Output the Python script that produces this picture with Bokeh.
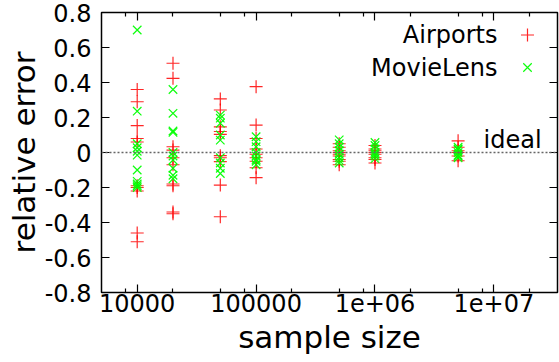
import numpy as np
from bokeh.plotting import figure
from bokeh.models import (Range1d, FixedTicker, CustomJSTickFormatter, LogAxis,
                          LinearAxis, Span, Label)
from bokeh.embed import file_html
from bokeh.resources import INLINE

# ---- data ----
sizes = [10000, 20000, 50000, 100000, 500000, 1000000, 5000000]

airports = {
    10000:   [0.36, 0.29, 0.154, 0.08, 0.06, -0.19, -0.20, -0.22, -0.46, -0.51],
    20000:   [0.51, 0.424, 0.033, 0.014, -0.03, -0.07, -0.18, -0.19, -0.34, -0.35],
    50000:   [0.306, 0.243, 0.147, 0.104, 0.12, -0.018, -0.03, -0.052, -0.186, -0.367],
    100000:  [0.376, 0.157, 0.08, 0.02, -0.01, -0.03, -0.05, -0.087, -0.144],
    500000:  [0.05, 0.03, 0.01, 0.0, -0.01, -0.02, -0.04, -0.05, -0.07],
    1000000: [0.04, 0.02, 0.01, 0.0, -0.01, -0.03, -0.04, -0.06],
    5000000: [0.067, 0.03, 0.01, 0.0, -0.02, -0.047],
}
movielens = {
    10000:   [0.70, 0.236, 0.05, 0.027, 0.007, -0.015, -0.10, -0.165, -0.18, -0.19, -0.20],
    20000:   [0.36, 0.224, 0.123, 0.115, 0.0, -0.02, -0.043, -0.09, -0.13, -0.15],
    50000:   [0.214, 0.196, 0.167, 0.10, 0.071, -0.03, -0.06, -0.09, -0.12],
    100000:  [0.09, 0.062, 0.033, 0.0, -0.02, -0.04, -0.05, -0.07],
    500000:  [0.072, 0.05, 0.03, 0.01, -0.01, -0.03, -0.045, -0.06],
    1000000: [0.057, 0.04, 0.02, 0.0, -0.01, -0.02, -0.035],
    5000000: [0.03, 0.02, 0.015, 0.0, -0.015, -0.02, -0.03],
}

x_major = [10000, 100000, 1000000, 10000000]
x_minor = [8000, 20000, 50000, 80000, 200000, 500000, 800000,
           2000000, 5000000, 8000000, 20000000]
y_ticks = [-0.8, -0.6, -0.4, -0.2, 0.0, 0.2, 0.4, 0.6, 0.8]

FONT = "DejaVu Sans"

def flatten(d):
    xs, ys = [], []
    for s in sizes:
        for v in d[s]:
            xs.append(s)
            ys.append(v)
    return xs, ys

# frame geometry
W, H = 559, 362
LEFT, RIGHT, TOP, BOTTOM = 101, 2, 12, 70
lx0, lx1 = 3.6997, 7.535

p = figure(width=W, height=H, x_axis_type="log",
           x_range=Range1d(10 ** lx0, 10 ** lx1), y_range=Range1d(-0.8, 0.8),
           output_backend="svg", toolbar_location=None,
           min_border_left=LEFT, min_border_right=RIGHT,
           min_border_top=TOP, min_border_bottom=BOTTOM)
p.background_fill_color = "white"
p.border_fill_color = "white"
p.xgrid.visible = False
p.ygrid.visible = False
p.outline_line_color = "black"
p.outline_line_width = 1.5

xt = FixedTicker(ticks=x_major, minor_ticks=x_minor)
yt = FixedTicker(ticks=y_ticks)
xfmt = CustomJSTickFormatter(code="""
  if (tick < 50000) return "10000";
  if (tick < 500000) return "100000";
  if (tick < 5000000) return "1e+06";
  return "1e+07";
""")
yfmt = CustomJSTickFormatter(code="""
  if (Math.abs(tick) < 1e-9) return "0";
  return tick.toFixed(1);
""")

def style(ax, labels=True):
    ax.axis_line_color = None
    ax.major_tick_in = 8
    ax.major_tick_out = 0
    ax.minor_tick_in = 4
    ax.minor_tick_out = 0
    ax.major_tick_line_color = "black"
    ax.minor_tick_line_color = "black"
    ax.major_tick_line_width = 1.2
    ax.minor_tick_line_width = 1.2
    if labels:
        ax.major_label_text_font = FONT
        ax.major_label_text_font_size = "24px"
        ax.major_label_text_color = "black"
        ax.axis_label_text_font = FONT
        ax.axis_label_text_font_size = "31px"
        ax.axis_label_text_font_style = "normal"
        ax.axis_label_text_color = "black"
    else:
        ax.major_label_text_font_size = "1px"
        ax.major_label_text_alpha = 0
        ax.major_label_standoff = 0

p.xaxis.ticker = xt
p.xaxis.formatter = xfmt
p.yaxis.ticker = yt
p.yaxis.formatter = yfmt
style(p.xaxis[0])
style(p.yaxis[0])
p.xaxis.axis_label = "sample size"
p.yaxis.axis_label = "relative error"
p.xaxis.major_label_standoff = 1
p.yaxis.major_label_standoff = 10
p.xaxis.axis_label_standoff = 4
p.yaxis.axis_label_standoff = 0

top_ax = LogAxis(ticker=FixedTicker(ticks=x_major, minor_ticks=x_minor))
style(top_ax, labels=False)
p.add_layout(top_ax, "above")
right_ax = LinearAxis(ticker=FixedTicker(ticks=y_ticks))
style(right_ax, labels=False)
p.add_layout(right_ax, "right")

# ideal line
p.add_layout(Span(location=0, dimension="width", line_color="#666666",
                  line_width=1.5, line_dash="2 2"))

ax_, ay_ = flatten(airports)
mx_, my_ = flatten(movielens)
p.scatter(ax_, ay_, marker="cross", size=13, line_color="#ff0000",
          line_width=1.2, line_alpha=0.85)
p.scatter(mx_, my_, marker="x", size=12, line_color="#00ff00",
          line_width=1.2, line_alpha=0.95)

# key (gnuplot style: text, then sample on the right)
fw = W - LEFT - RIGHT
fh = H - TOP - BOTTOM
def px2x(px):
    return 10 ** (lx0 + (px - LEFT) / fw * (lx1 - lx0))
def py2y(py):
    return 0.8 - (py - TOP) / fh * 1.6

key_names = ["Airports", "MovieLens"]
key_base = [34.5, 67.0]
key_mid = [34.5, 67.0]
for name, b in zip(key_names, key_base):
    p.add_layout(Label(x=px2x(497), y=py2y(b), text=name, text_align="right",
                       text_baseline="alphabetic", text_font=FONT,
                       text_font_size="24px", text_color="black"))
p.scatter([px2x(527)], [py2y(key_mid[0])], marker="cross", size=13,
          line_color="#ff0000", line_width=1.2, line_alpha=0.85)
p.scatter([px2x(527)], [py2y(key_mid[1])], marker="x", size=12,
          line_color="#00ff00", line_width=1.2, line_alpha=0.95)

p.add_layout(Label(x=px2x(483), y=py2y(139.0), text="ideal", text_align="left",
                   text_baseline="alphabetic", text_font=FONT,
                   text_font_size="24px", text_color="black"))

open("out.html", "w").write(file_html(p, INLINE))
